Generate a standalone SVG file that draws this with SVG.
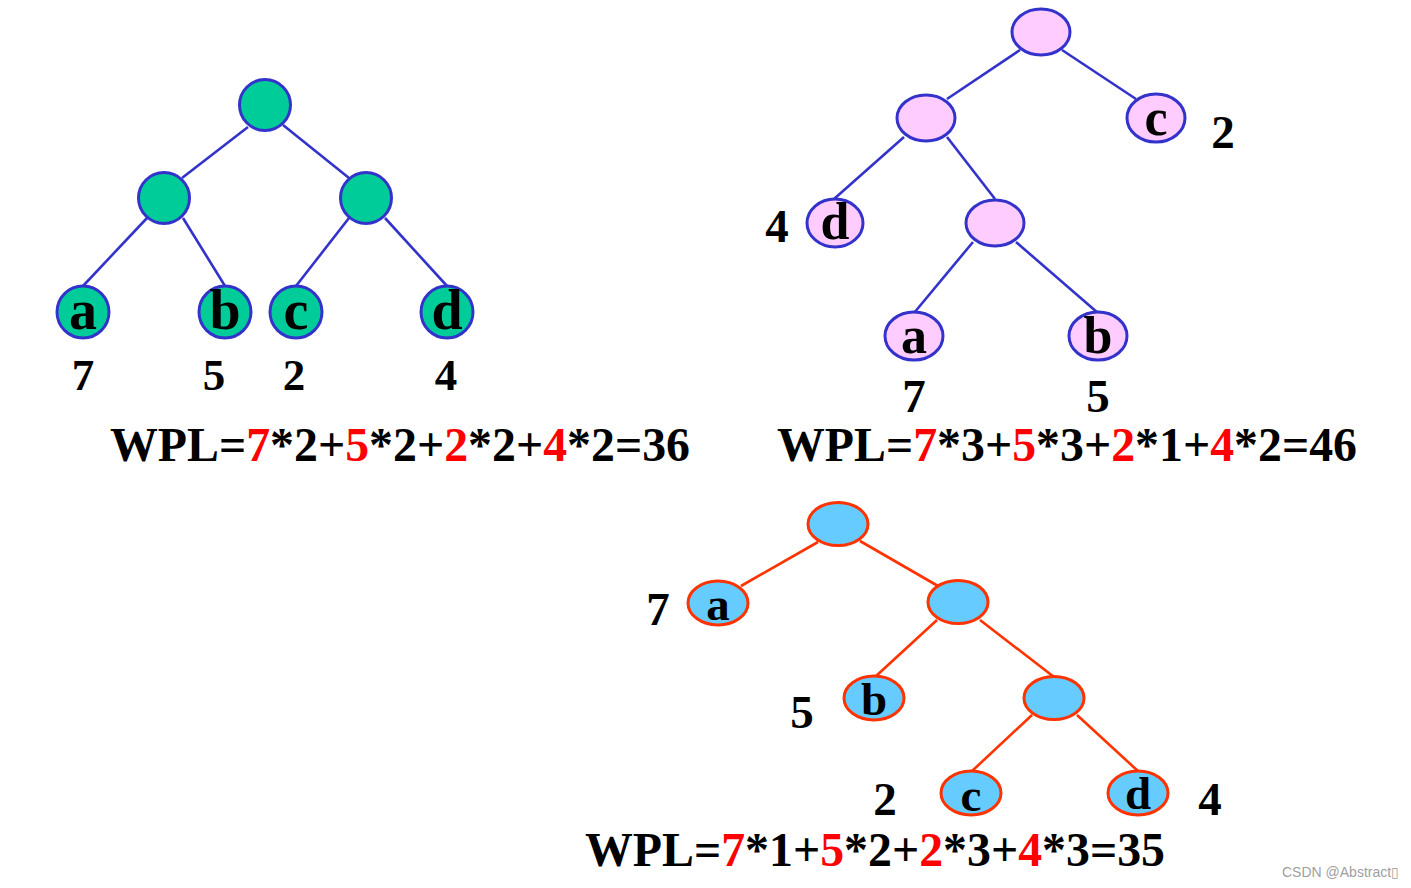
<svg xmlns="http://www.w3.org/2000/svg" width="1411" height="888" viewBox="0 0 1411 888">
<style>
text{font-family:"Liberation Serif","Times New Roman",serif;font-weight:bold;fill:#000;text-anchor:middle}
.e1 line,.e2 line{stroke:#3333CC;stroke-width:2.6}
.e3 line{stroke:#FF3300;stroke-width:2.6}
.n1{fill:#00CC99;stroke:#3333CC;stroke-width:3}
.n2{fill:#FFCCFF;stroke:#3333CC;stroke-width:3}
.n3{fill:#66CCFF;stroke:#FF3300;stroke-width:3}
.l1{font-size:56px}
.l2{font-size:52px}
.l3{font-size:47px}
.w1{font-size:45px}
.w{font-size:47px}
.f{font-size:48px;text-anchor:start}
.r{fill:#FF0000}
.wm{font-family:"Liberation Sans",Arial,sans-serif;font-weight:normal;font-size:14px;fill:#A0A0A0;text-anchor:start}
</style>
<g id="connectors">
<g class="e1">
<line x1="248" y1="127" x2="182" y2="178"/>
<line x1="283" y1="125" x2="349" y2="178"/>
<line x1="147" y1="218" x2="83" y2="286"/>
<line x1="183" y1="218" x2="225" y2="286"/>
<line x1="349" y1="218" x2="296" y2="286"/>
<line x1="385" y1="218" x2="447" y2="286"/>
</g>
<g class="e2">
<line x1="1020" y1="50" x2="947" y2="99"/>
<line x1="1062" y1="50" x2="1136" y2="99"/>
<line x1="904" y1="137" x2="834" y2="199"/>
<line x1="947" y1="137" x2="995" y2="199"/>
<line x1="973" y1="242" x2="914" y2="313"/>
<line x1="1016" y1="242" x2="1098" y2="313"/>
</g>
<g class="e3">
<line x1="818" y1="542" x2="741" y2="586"/>
<line x1="860" y1="541" x2="938" y2="586"/>
<line x1="937" y1="620" x2="875" y2="677"/>
<line x1="980" y1="620" x2="1054" y2="677"/>
<line x1="1032" y1="715" x2="971" y2="772"/>
<line x1="1077" y1="715" x2="1139" y2="772"/>
</g>
</g>
<g id="t1-root"><circle class="n1" cx="265" cy="105" r="25.5"/></g>
<g id="t1-left"><circle class="n1" cx="164" cy="198" r="25.5"/></g>
<g id="t1-right"><circle class="n1" cx="366" cy="198" r="25.5"/></g>
<g id="t1-a"><circle class="n1" cx="83" cy="312" r="26"/><text class="l1" x="83" y="329">a</text><text class="w1" x="83" y="390">7</text></g>
<g id="t1-b"><circle class="n1" cx="225" cy="312" r="26"/><text class="l1" x="225" y="329">b</text><text class="w1" x="214" y="390">5</text></g>
<g id="t1-c"><circle class="n1" cx="296" cy="312" r="26"/><text class="l1" x="296" y="329">c</text><text class="w1" x="294" y="390">2</text></g>
<g id="t1-d"><circle class="n1" cx="447" cy="312" r="26"/><text class="l1" x="447" y="329">d</text><text class="w1" x="446" y="390">4</text></g>
<g id="t2-root"><ellipse class="n2" cx="1041" cy="32" rx="29" ry="23"/></g>
<g id="t2-left"><ellipse class="n2" cx="926" cy="118" rx="29" ry="23"/></g>
<g id="t2-c"><ellipse class="n2" cx="1156" cy="118" rx="29" ry="24"/><text class="l2" x="1156" y="135">c</text><text class="w" x="1223" y="148">2</text></g>
<g id="t2-d"><ellipse class="n2" cx="835" cy="223" rx="28" ry="24"/><text class="l2" x="835" y="239">d</text><text class="w" x="777" y="242">4</text></g>
<g id="t2-inner"><ellipse class="n2" cx="995" cy="223" rx="29" ry="23"/></g>
<g id="t2-a"><ellipse class="n2" cx="914" cy="336" rx="29" ry="24"/><text class="l2" x="914" y="353">a</text><text class="w" x="914" y="412">7</text></g>
<g id="t2-b"><ellipse class="n2" cx="1098" cy="336" rx="29" ry="24"/><text class="l2" x="1098" y="353">b</text><text class="w" x="1098" y="412">5</text></g>
<g id="t3-root"><ellipse class="n3" cx="838" cy="524" rx="30" ry="21.5"/></g>
<g id="t3-a"><ellipse class="n3" cx="718" cy="603" rx="30" ry="22"/><text class="l3" x="718" y="620">a</text><text class="w" x="658" y="625">7</text></g>
<g id="t3-right"><ellipse class="n3" cx="958" cy="602" rx="30" ry="21.5"/></g>
<g id="t3-b"><ellipse class="n3" cx="874" cy="698" rx="30" ry="22"/><text class="l3" x="874" y="715">b</text><text class="w" x="802" y="728">5</text></g>
<g id="t3-inner"><ellipse class="n3" cx="1054" cy="698" rx="30" ry="21.5"/></g>
<g id="t3-c"><ellipse class="n3" cx="971" cy="793" rx="30" ry="22"/><text class="l3" x="971" y="811">c</text><text class="w" x="885" y="815">2</text></g>
<g id="t3-d"><ellipse class="n3" cx="1138" cy="793" rx="30" ry="22"/><text class="l3" x="1138" y="809">d</text><text class="w" x="1210" y="815">4</text></g>
<g id="formulas">
<text class="f" x="110" y="461" textLength="580" lengthAdjust="spacingAndGlyphs">WPL=<tspan class="r">7</tspan>*2+<tspan class="r">5</tspan>*2+<tspan class="r">2</tspan>*2+<tspan class="r">4</tspan>*2=36</text>
<text class="f" x="777" y="461" textLength="580" lengthAdjust="spacingAndGlyphs">WPL=<tspan class="r">7</tspan>*3+<tspan class="r">5</tspan>*3+<tspan class="r">2</tspan>*1+<tspan class="r">4</tspan>*2=46</text>
<text class="f" x="585" y="866" textLength="580" lengthAdjust="spacingAndGlyphs">WPL=<tspan class="r">7</tspan>*1+<tspan class="r">5</tspan>*2+<tspan class="r">2</tspan>*3+<tspan class="r">4</tspan>*3=35</text>
</g>
<text class="wm" x="1282" y="877">CSDN @Abstract▯</text>
</svg>
